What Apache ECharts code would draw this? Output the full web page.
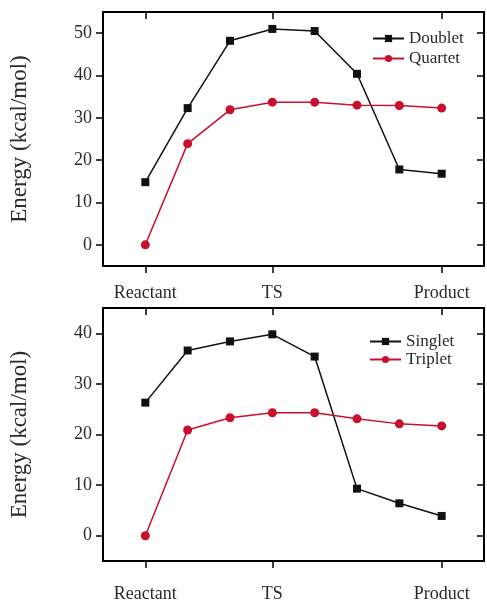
<!DOCTYPE html>
<html>
<head>
<meta charset="utf-8">
<script src="https://cdn.jsdelivr.net/npm/echarts@6/dist/echarts.min.js"></script>
<style>
html,body{margin:0;padding:0;background:#fff;}
#chart{width:487px;height:604px;}
</style>
</head>
<body>
<div id="chart"></div>
<script>
// Reaction coordinate stages (only some are labelled on the axis)
var stages = ['Reactant', '', '', 'TS', '', '', '', 'Product'];
var labelledStages = ['Reactant', 'TS', 'Product'];

// Top panel
var doublet = [14.8, 32.3, 48.2, 51.0, 50.5, 40.4, 17.8, 16.8];
var quartet = [0, 23.9, 31.9, 33.7, 33.7, 33.0, 32.9, 32.3];
var topTicks = [0, 10, 20, 30, 40, 50];

// Bottom panel
var singlet = [26.3, 36.6, 38.4, 39.8, 35.4, 9.3, 6.4, 3.9];
var triplet = [0, 20.9, 23.3, 24.3, 24.3, 23.1, 22.1, 21.7];
var bottomTicks = [0, 10, 20, 30, 40];

var FONT = '"Liberation Serif", "DejaVu Serif", serif';
var TXT = '#2a2a2a';
var RED = '#c8102e';
var BLK = '#111';

function pts(arr) { return arr.map(function (v, i) { return [i + 1, v]; }); }
var stagePos = labelledStages.map(function (s) { return stages.indexOf(s) + 1; });

function axLine() { return { show: true, onZero: false, lineStyle: { color: '#000', width: 2 } }; }
function xAxes(gridIndex, labelMargin) {
  return [
    { type: 'value', gridIndex: gridIndex, position: 'bottom', min: 0, max: 9,
      axisLine: axLine(), splitLine: { show: false },
      axisTick: { show: true, inside: false, length: 7, customValues: stagePos, lineStyle: { color: '#000', width: 1.5 } },
      axisLabel: { show: true, customValues: stagePos, margin: labelMargin, fontFamily: FONT, fontSize: 18, color: TXT,
        formatter: function (v) { return stages[Math.round(v) - 1] || ''; } } },
    { type: 'value', gridIndex: gridIndex, position: 'top', min: 0, max: 9,
      axisLine: axLine(), splitLine: { show: false },
      axisTick: { show: true, inside: true, length: 7, customValues: stagePos, lineStyle: { color: '#000', width: 1.5 } },
      axisLabel: { show: false } }
  ];
}
function yAxes(gridIndex, max, ticks) {
  return [
    { type: 'value', gridIndex: gridIndex, position: 'left', min: -5, max: max,
      name: 'Energy (kcal/mol)', nameLocation: 'middle', nameGap: 72,
      nameTextStyle: { fontFamily: FONT, fontSize: 23, color: TXT },
      axisLine: axLine(), splitLine: { show: false },
      axisTick: { show: true, inside: false, length: 7, customValues: ticks, lineStyle: { color: '#000', width: 1.5 } },
      axisLabel: { show: true, customValues: ticks, margin: 11, fontFamily: FONT, fontSize: 18, color: TXT } },
    { type: 'value', gridIndex: gridIndex, position: 'right', min: -5, max: max,
      axisLine: axLine(), splitLine: { show: false },
      axisTick: { show: true, inside: true, length: 7, customValues: ticks, lineStyle: { color: '#000', width: 1.5 } },
      axisLabel: { show: false } }
  ];
}
function series(name, data, xi, yi, color, symbol, size) {
  return { name: name, type: 'line', xAxisIndex: xi, yAxisIndex: yi, data: pts(data),
    symbol: symbol, symbolSize: size, showSymbol: true,
    lineStyle: { color: color, width: 1.5 }, itemStyle: { color: color },
    emphasis: { disabled: true }, animation: false };
}

var chart = echarts.init(document.getElementById('chart'), null, { renderer: 'canvas' });
chart.setOption({
  backgroundColor: '#fff',
  animation: false,
  grid: [
    { left: 102, top: 12, width: 382, height: 254 },
    { left: 102, top: 308, width: 382, height: 253 }
  ],
  xAxis: xAxes(0, 18).concat(xAxes(1, 24)),
  yAxis: yAxes(0, 55, topTicks).concat(yAxes(1, 45, bottomTicks)),
  legend: [
    { data: ['Doublet', 'Quartet'], orient: 'vertical', left: 372, top: 30, padding: 0, itemWidth: 31, itemHeight: 9, itemGap: 3,
      textStyle: { fontFamily: FONT, fontSize: 17, color: TXT, lineHeight: 17 } },
    { data: ['Singlet', 'Triplet'], orient: 'vertical', left: 369, top: 333, padding: 0, itemWidth: 31, itemHeight: 9, itemGap: 1,
      textStyle: { fontFamily: FONT, fontSize: 17, color: TXT, lineHeight: 17 } }
  ],
  series: [
    series('Doublet', doublet, 0, 0, BLK, 'rect', 8),
    series('Quartet', quartet, 0, 0, RED, 'circle', 9),
    series('Singlet', singlet, 2, 2, BLK, 'rect', 8),
    series('Triplet', triplet, 2, 2, RED, 'circle', 9)
  ]
});
</script>
</body>
</html>
